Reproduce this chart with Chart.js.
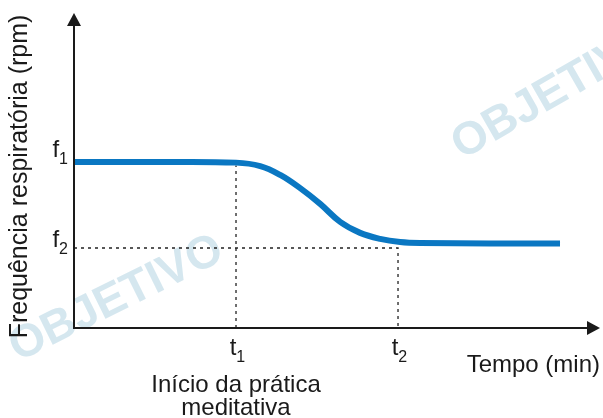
<!DOCTYPE html>
<html>
<head>
<meta charset="utf-8">
<script src="https://cdn.jsdelivr.net/npm/chart.js@4"></script>
<style>
  html, body { margin: 0; padding: 0; background: #fff; }
  #wrap { width: 603px; height: 418px; position: relative; }
</style>
</head>
<body>
<div id="wrap"><canvas id="c"></canvas></div>
<script>
// 時間軸（任意単位）と呼吸数 — 画像から読み取り
const timeX = [0, 15.0, 30.8, 35.4, 39.2, 43.0, 46.8, 50.6, 54.4, 58.2, 62.0, 65.8, 92.4];
const freqY = [52.7, 52.7, 52.5, 51.4, 48.6, 44.4, 39.4, 33.7, 30.2, 28.3, 27.3, 27.0, 26.8];

// 目盛り位置とラベル
const tMarks = [30.8, 61.6];
const tLabels = [['t', '1'], ['t', '2']];
const fMarks = [52.7, 25.4];
const fLabels = [['f', '1'], ['f', '2']];
const fGuideTop = 51.6; // t1 の点線の上端（曲線の下端）

const xTitle = 'Tempo (min)';
const yTitle = 'Frequência respiratória (rpm)';
const noteLines = ['Início da prática', 'meditativa'];
const watermark = 'OBJETIVO';

const FONT = "'Liberation Sans', Arial, sans-serif";
const BLUE = '#0a77c2';

const guide = {
  borderColor: '#222',
  borderWidth: 1.3,
  borderDash: [3, 4],
  pointRadius: 0,
  showLine: true,
  fill: false,
};

// 透かし・軸・ラベル描画
const decor = {
  id: 'decor',
  beforeDatasetsDraw(chart) {
    const { ctx } = chart;
    ctx.save();
    ctx.fillStyle = '#d5e7ef';
    ctx.font = `bold 46px ${FONT}`;
    ctx.textBaseline = 'alphabetic';
    [[18, 362, -0.46], [462, 160, -0.52]].forEach(([x, y, a]) => {
      ctx.save();
      ctx.translate(x, y);
      ctx.rotate(a);
      ctx.fillText(watermark, 0, 0);
      ctx.restore();
    });
    ctx.restore();
  },
  afterDraw(chart) {
    const { ctx, chartArea: ca, scales } = chart;
    const x0 = scales.x.getPixelForValue(0);
    const y0 = scales.y.getPixelForValue(0);
    ctx.save();
    ctx.strokeStyle = '#1a1a1a';
    ctx.fillStyle = '#1a1a1a';
    ctx.lineWidth = 2;
    ctx.beginPath();
    ctx.moveTo(x0, ca.top + 10);
    ctx.lineTo(x0, y0);
    ctx.lineTo(ca.right - 10, y0);
    ctx.stroke();
    // 矢印
    ctx.beginPath();
    ctx.moveTo(x0, ca.top);
    ctx.lineTo(x0 - 7, ca.top + 13);
    ctx.lineTo(x0 + 7, ca.top + 13);
    ctx.closePath();
    ctx.fill();
    ctx.beginPath();
    ctx.moveTo(ca.right, y0);
    ctx.lineTo(ca.right - 13, y0 - 7);
    ctx.lineTo(ca.right - 13, y0 + 7);
    ctx.closePath();
    ctx.fill();

    const sub = (main, s, x, y, align) => {
      ctx.font = `24px ${FONT}`;
      const w1 = ctx.measureText(main).width;
      ctx.font = `16px ${FONT}`;
      const w2 = ctx.measureText(s).width;
      let left = x;
      if (align === 'right') left = x - w1 - w2;
      if (align === 'center') left = x - w1 / 2;
      ctx.textAlign = 'left';
      ctx.textBaseline = 'alphabetic';
      ctx.font = `24px ${FONT}`;
      ctx.fillText(main, left, y);
      ctx.font = `16px ${FONT}`;
      ctx.fillText(s, left + w1, y + 7);
    };
    fMarks.forEach((v, i) => {
      sub(fLabels[i][0], fLabels[i][1], x0 - 6, scales.y.getPixelForValue(v) + (i ? -1 : -5), 'right');
    });
    tMarks.forEach((v, i) => {
      sub(tLabels[i][0], tLabels[i][1], scales.x.getPixelForValue(v) - 3, y0 + 27, 'center');
    });

    ctx.font = `24px ${FONT}`;
    ctx.textAlign = 'right';
    ctx.fillText(xTitle, ca.right, y0 + 44);
    ctx.textAlign = 'center';
    const tx = scales.x.getPixelForValue(tMarks[0]);
    ctx.fillText(noteLines[0], tx, y0 + 64);
    ctx.fillText(noteLines[1], tx, y0 + 87);

    ctx.save();
    ctx.font = `25px ${FONT}`;
    ctx.translate(20, (ca.top + y0) / 2 + 6);
    ctx.rotate(-Math.PI / 2);
    ctx.textAlign = 'center';
    ctx.textBaseline = 'middle';
    ctx.fillText(yTitle, 0, 0);
    ctx.restore();
    ctx.restore();
  },
};

new Chart(document.getElementById('c'), {
  type: 'scatter',
  data: {
    datasets: [
      {
        data: timeX.map((x, i) => ({ x, y: freqY[i] })),
        borderColor: BLUE,
        borderWidth: 6,
        pointRadius: 0,
        showLine: true,
        tension: 0.4,
        borderCapStyle: 'butt',
      },
      { ...guide, data: [{ x: tMarks[0], y: 0 }, { x: tMarks[0], y: fGuideTop }] },
      { ...guide, data: [{ x: 0, y: fMarks[1] }, { x: tMarks[1], y: fMarks[1] }, { x: tMarks[1], y: 0 }] },
    ],
  },
  options: {
    responsive: true,
    maintainAspectRatio: false,
    animation: false,
    layout: { padding: { left: 74, right: 3, top: 13, bottom: 90 } },
    scales: {
      x: { type: 'linear', min: 0, max: 100, display: false },
      y: { min: 0, max: 100, display: false },
    },
    plugins: { legend: { display: false }, tooltip: { enabled: false } },
  },
  plugins: [decor],
});
</script>
</body>
</html>
